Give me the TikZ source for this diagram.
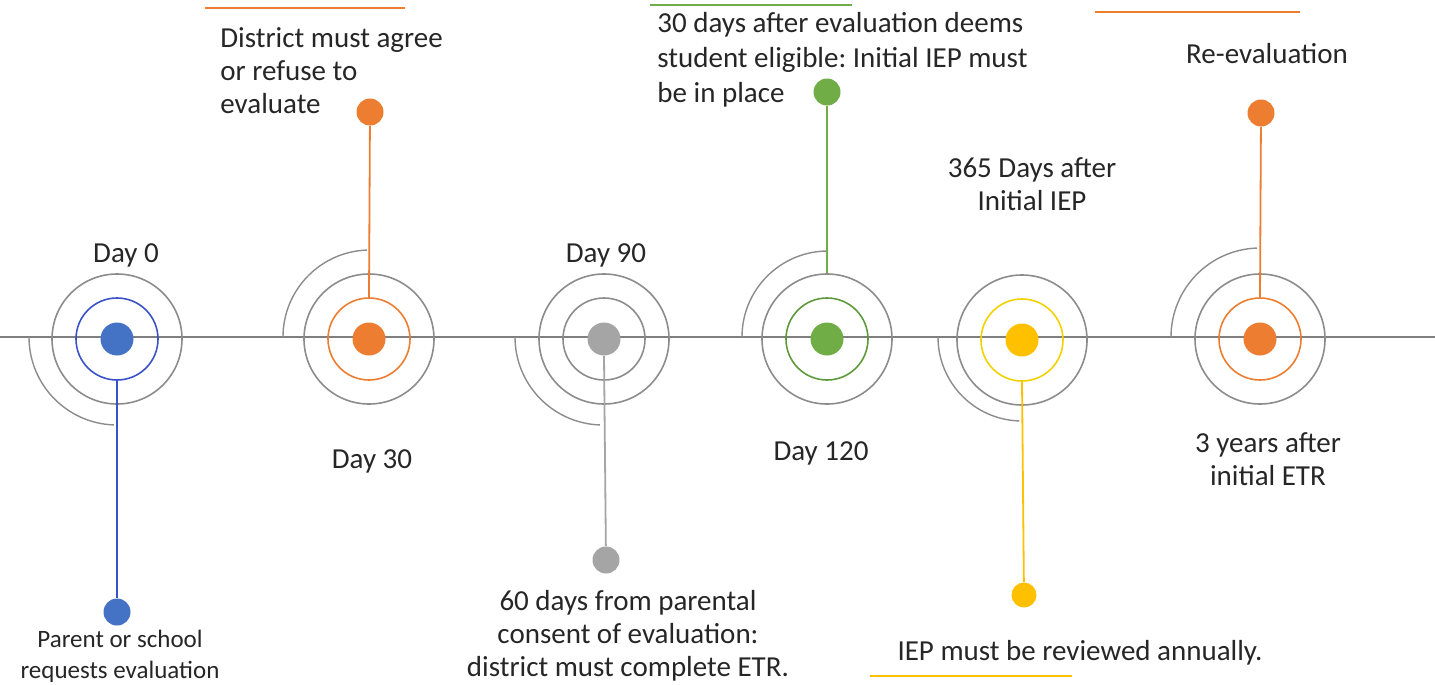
\documentclass[tikz,border=0pt]{standalone}
\usepackage{fontspec}
\setmainfont{Carlito}
\frenchspacing
\definecolor{cblue}{HTML}{4472C4}
\definecolor{cbluering}{HTML}{3A52C8}
\definecolor{corange}{HTML}{ED7D31}
\definecolor{cgraydot}{HTML}{A5A5A5}
\definecolor{cgreen}{HTML}{70AD47}
\definecolor{cgreenring}{HTML}{5E9A3A}
\definecolor{cyellow}{HTML}{FFC000}
\definecolor{cyellowring}{HTML}{F5D000}
\definecolor{cring}{HTML}{8C8C8C}
\definecolor{cline}{HTML}{7F7F7F}
\definecolor{ctext}{HTML}{262626}
\begin{document}
\begin{tikzpicture}[x=0.5pt,y=-0.5pt,
  dotnode/.style={circle,inner sep=0pt,minimum size=#1},
  centerdot/.style={dotnode=16.5pt},
  enddot/.style={dotnode=13.5pt},
  ringnode/.style={circle,inner sep=0pt,minimum size=41pt,line width=0.8pt},
  outerring/.style={circle,inner sep=0pt,minimum size=65pt,draw=cring,line width=0.8pt},
  swirl/.style={draw=cring,line width=0.7pt},
  stem/.style={line width=0.9pt},
  deco/.style={line width=1.2pt},
  lbl/.style={inner sep=0pt,text=ctext,font=\fontsize{14.5}{16.5}\selectfont},
  smalllbl/.style={inner sep=0pt,text=ctext,font=\fontsize{12.5}{15.5}\selectfont}
]
\useasboundingbox (0,0) rectangle (1435,685);

% timeline axis
\coordinate (tl-start) at (0,337);
\coordinate (tl-end) at (1435,337);
\draw[draw=cline,line width=1pt] (tl-start) -- (tl-end);

% ---------- Day 0 ----------
\node[outerring] (o0) at (117,339) {};
\node[ringnode,draw=cbluering] (r0) at (117,339) {};
\node[centerdot,fill=cblue] (c0) at (117,339) {};
\draw[swirl] (29,337) arc[start angle=180,end angle=92,radius=88];
\node[enddot,fill=cblue] (d0) at (117,612) {};
\draw[stem,draw=cbluering] (r0.south) -- (d0);
\node[lbl,anchor=base] (t0) at (126,262) {Day 0};
\node[smalllbl,align=center,anchor=north] (n0) at (120,630) {Parent or school\\requests evaluation};

% ---------- Day 30 ----------
\node[outerring] (o1) at (369,339) {};
\node[ringnode,draw=corange] (r1) at (369,339) {};
\node[centerdot,fill=corange] (c1) at (369,339) {};
\draw[swirl] (283,337) arc[start angle=180,end angle=268,radius=87];
\node[enddot,fill=corange] (d1) at (370,112) {};
\draw[stem,draw=corange] (r1.north) -- (d1);
\node[lbl,anchor=base] (t1) at (372,468) {Day 30};
\node[lbl,align=left,anchor=north west] (n1) at (220,27) {District must agree\\or refuse to\\evaluate};
\draw[deco,draw=corange] (205,8) -- (405,8);

% ---------- Day 90 ----------
\node[outerring] (o2) at (604,339) {};
\node[ringnode,draw=cring] (r2) at (604,339) {};
\node[centerdot,fill=cgraydot] (c2) at (604,339) {};
\draw[swirl] (515,337) arc[start angle=180,end angle=92,radius=88];
\node[enddot,fill=cgraydot] (d2) at (606,560) {};
\draw[stem,draw=cgraydot] (c2.south) -- (d2);
\node[lbl,anchor=base] (t2) at (606,262) {Day 90};
\node[lbl,align=center,anchor=north] (n2) at (628,590) {60 days from parental\\consent of evaluation:\\district must complete ETR.};

% ---------- Day 120 ----------
\node[outerring] (o3) at (827,339) {};
\node[ringnode,draw=cgreenring] (r3) at (827,339) {};
\node[centerdot,fill=cgreen] (c3) at (827,339) {};
\draw[swirl] (742,337) arc[start angle=180,end angle=270,radius=86];
\node[enddot,fill=cgreen] (d3) at (827,92) {};
\draw[stem,draw=cgreen] (o3.north) -- (d3);
\node[lbl,anchor=base] (t3) at (821,460) {Day 120};
\node[lbl,align=left,anchor=north west,font=\fontsize{14.5}{17.5}\selectfont] (n3) at (657,12) {30 days after evaluation deems\\student eligible: Initial IEP must\\be in place};
\draw[deco,draw=cgreen] (650,5) -- (852,5);

% ---------- 365 days ----------
\node[outerring] (o4) at (1022,340) {};
\node[ringnode,draw=cyellowring] (r4) at (1022,340) {};
\node[centerdot,fill=cyellow] (c4) at (1022,340) {};
\draw[swirl] (938,337) arc[start angle=180,end angle=92,radius=84];
\node[enddot,fill=cyellow,minimum size=12.5pt] (d4) at (1024,595) {};
\draw[stem,draw=cyellow] (r4.south) -- (d4);
\node[lbl,align=center,anchor=north] (t4) at (1032,157) {365 Days after\\Initial IEP};
\node[lbl,anchor=base] (n4) at (1080,660) {IEP must be reviewed annually.};
\draw[deco,draw=cyellow] (870,676) -- (1072,676);

% ---------- Re-evaluation ----------
\node[outerring] (o5) at (1260,339) {};
\node[ringnode,draw=corange] (r5) at (1260,339) {};
\node[centerdot,fill=corange] (c5) at (1260,339) {};
\draw[swirl] (1171,337) arc[start angle=180,end angle=268,radius=89];
\node[enddot,fill=corange] (d5) at (1261,113) {};
\draw[stem,draw=corange] (r5.north) -- (d5);
\node[lbl,align=center,anchor=north] (t5) at (1268,432) {3 years after\\initial ETR};
\node[lbl,anchor=base] (n5) at (1267,63) {Re-evaluation};
\draw[deco,draw=corange] (1095,12) -- (1300,12);
\end{tikzpicture}
\end{document}
